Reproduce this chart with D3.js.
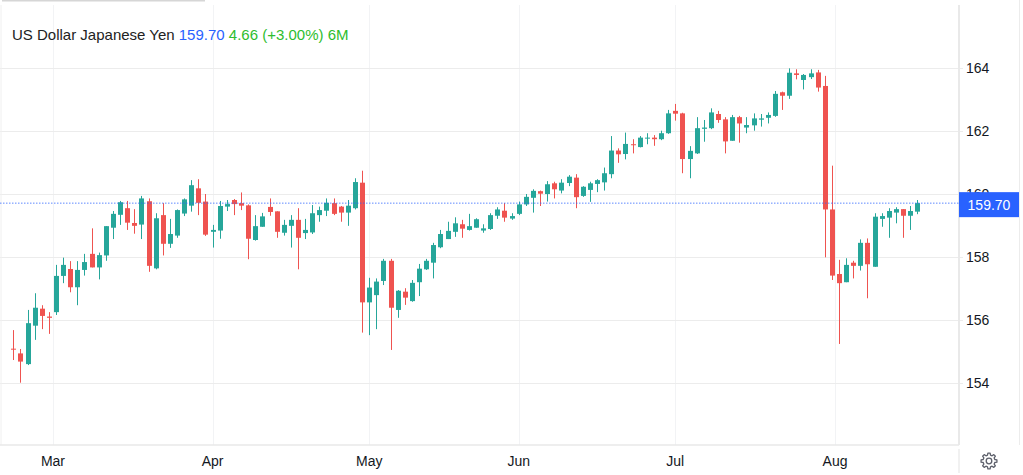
<!DOCTYPE html>
<html>
<head>
<meta charset="utf-8">
<script src="https://cdn.jsdelivr.net/npm/d3@7/dist/d3.min.js"></script>
<style>
  html, body { margin: 0; padding: 0; background: #fff; }
  svg { display: block; font-family: "Liberation Sans", Arial, Helvetica, sans-serif; }
</style>
</head>
<body>
<svg id="chart" width="1023" height="475"></svg>
<script>
// ---- data ----
const title = "US Dollar Japanese Yen";
const lastPrice = 159.70;
const changeText = "4.66 (+3.00%) 6M";

const open = [
155.08, 154.93, 154.59, 155.81, 156.35, 156.10, 156.24, 157.39, 157.61, 157.03,
157.58, 158.09, 157.66, 158.04, 158.92, 159.33, 159.54, 159.07, 159.02, 159.76,
157.63, 159.32, 158.41, 158.67, 159.37, 159.62, 160.17, 159.75, 158.79, 158.83,
159.59, 159.80, 159.70, 159.63, 158.53, 158.95, 159.58, 159.44, 158.76, 158.98,
159.17, 158.75, 158.77, 159.32, 159.46, 159.70, 159.59, 159.40, 159.54, 160.35,
156.55, 156.78, 157.23, 157.87, 156.31, 156.89, 156.59, 157.19, 157.60, 157.81,
158.30, 158.56, 158.79, 159.03, 158.85, 158.92, 158.83, 158.88, 159.30, 159.46,
159.21, 159.36, 159.66, 159.87, 160.08, 159.99, 160.33, 160.10, 160.34, 160.51,
159.93, 160.12, 160.31, 160.36, 160.62, 161.37, 161.26, 161.57, 161.48, 161.75,
161.78, 161.73, 161.92, 162.63, 162.55, 161.10, 161.28, 162.06, 162.08, 162.53,
162.36, 161.68, 162.43, 162.10, 162.17, 162.35, 162.41, 162.47, 163.22, 163.11,
163.82, 163.61, 163.70, 163.85, 163.42, 159.50, 157.45, 157.19, 157.81, 157.71,
158.44, 157.68, 159.20, 159.24, 159.40, 159.51, 159.30, 159.43
];
const high = [
155.67, 155.07, 156.31, 156.84, 156.46, 156.24, 157.74, 157.97, 157.86, 157.86,
158.09, 158.90, 158.13, 158.97, 159.45, 159.77, 159.77, 159.51, 159.93, 159.85,
159.38, 159.70, 159.20, 159.50, 159.85, 160.43, 160.46, 159.99, 159.01, 159.77,
159.80, 159.83, 160.04, 159.66, 159.32, 159.39, 159.85, 159.44, 159.17, 159.32,
159.54, 159.20, 159.64, 159.59, 159.85, 159.85, 159.61, 159.80, 160.49, 160.73,
157.33, 157.31, 157.93, 157.93, 156.94, 157.00, 157.26, 157.77, 157.93, 158.44,
158.85, 159.11, 159.25, 159.17, 159.36, 159.22, 159.03, 159.38, 159.57, 159.70,
159.38, 159.75, 159.99, 160.14, 160.10, 160.40, 160.38, 160.46, 160.59, 160.62,
160.24, 160.38, 160.46, 160.83, 161.83, 161.44, 161.94, 161.73, 161.83, 161.92,
161.86, 162.00, 162.66, 162.85, 162.57, 161.51, 162.43, 162.34, 162.71, 162.63,
162.43, 162.50, 162.47, 162.43, 162.55, 162.53, 162.58, 163.26, 163.24, 163.98,
163.95, 163.80, 163.95, 163.93, 163.74, 160.89, 157.90, 157.95, 157.87, 158.55,
158.58, 159.38, 159.38, 159.54, 159.57, 159.51, 159.61, 159.80
];
const low = [
154.72, 154.00, 154.56, 155.36, 155.70, 155.55, 156.15, 157.16, 156.87, 156.46,
157.40, 157.66, 157.28, 157.87, 158.56, 159.01, 158.85, 158.73, 158.56, 157.52,
157.60, 158.04, 158.28, 158.60, 159.29, 159.43, 159.32, 158.66, 158.29, 158.57,
159.45, 159.32, 159.48, 157.92, 158.51, 158.95, 159.30, 158.60, 158.67, 158.29,
157.60, 158.56, 158.72, 159.11, 159.29, 159.32, 159.11, 158.98, 159.50, 155.59,
155.51, 155.70, 157.10, 155.04, 156.06, 156.47, 156.57, 156.75, 157.58, 157.31,
158.27, 158.56, 158.63, 158.60, 158.83, 158.92, 158.76, 158.85, 159.20, 159.11,
159.17, 159.32, 159.61, 159.40, 159.61, 159.75, 159.85, 160.01, 160.24, 159.54,
159.90, 159.74, 160.05, 160.10, 160.49, 160.98, 161.09, 161.28, 161.47, 161.57,
161.52, 161.70, 161.90, 162.32, 160.65, 160.49, 161.26, 161.65, 162.05, 162.25,
161.28, 161.68, 161.62, 161.92, 162.00, 162.13, 162.23, 162.44, 162.66, 163.01,
163.63, 163.31, 163.64, 163.24, 157.98, 157.26, 155.23, 157.19, 157.31, 157.56,
156.68, 157.68, 158.95, 158.60, 159.06, 158.60, 158.85, 159.35
];
const close = [
155.05, 154.67, 155.89, 156.38, 156.12, 156.06, 157.39, 157.74, 157.03, 157.58,
157.83, 157.66, 158.05, 158.97, 159.36, 159.73, 159.08, 158.98, 159.85, 157.71,
159.22, 158.41, 158.72, 159.48, 159.82, 160.27, 159.71, 158.70, 158.85, 159.61,
159.67, 159.67, 159.62, 158.57, 158.97, 159.28, 159.42, 158.79, 159.01, 159.17,
158.60, 158.85, 159.38, 159.48, 159.71, 159.36, 159.40, 159.62, 160.37, 156.55,
157.02, 157.21, 157.87, 156.38, 156.92, 156.70, 157.17, 157.62, 157.87, 158.37,
158.72, 158.82, 159.06, 158.89, 158.97, 159.19, 158.90, 159.32, 159.50, 159.24,
159.29, 159.66, 159.90, 160.09, 160.00, 160.30, 160.14, 160.35, 160.54, 159.89,
160.22, 160.33, 160.43, 160.65, 161.37, 161.25, 161.58, 161.54, 161.78, 161.78,
161.73, 161.92, 162.55, 162.54, 161.10, 161.36, 162.08, 162.10, 162.58, 162.34,
161.66, 162.43, 162.23, 162.18, 162.39, 162.39, 162.50, 163.17, 163.11, 163.84,
163.77, 163.77, 163.82, 163.37, 159.50, 157.40, 157.16, 157.74, 157.71, 158.44,
157.76, 159.27, 159.29, 159.45, 159.51, 159.30, 159.45, 159.70
];
const yTicks = [154, 156, 158, 160, 162, 164];
const monthLabels = ["Mar", "Apr", "May", "Jun", "Jul", "Aug"];
const monthAt = [5.57, 28, 50, 71, 93, 115.45]; // candle index of month start

// ---- layout ----
const W = 1023, H = 475;
const plotRight = 959, plotBottom = 445;
const UP = "#26a69a", DOWN = "#ef5350";

const svg = d3.select("#chart");
const x = d3.scaleLinear().domain([0, open.length - 1]).range([13.3, 917.3]);
const y = d3.scaleLinear().domain([154, 164]).range([382.7, 67.7]);

// top scroll strip
svg.append("rect").attr("x", 2).attr("y", 0).attr("width", 203).attr("height", 1.5).attr("fill", "#d6d6d6");

// vertical month grid
svg.append("g").selectAll("line").data(monthAt).join("line")
  .attr("x1", d => Math.round(x(d)) + 0.5).attr("x2", d => Math.round(x(d)) + 0.5)
  .attr("y1", 5).attr("y2", plotBottom)
  .attr("stroke", "#f2f3f5").attr("stroke-width", 1);

// horizontal grid
svg.append("g").selectAll("line").data(yTicks).join("line")
  .attr("x1", 0).attr("x2", plotRight + 4)
  .attr("y1", d => Math.round(y(d)) + 0.5).attr("y2", d => Math.round(y(d)) + 0.5)
  .attr("stroke", "#ececec").attr("stroke-width", 1);

// borders
svg.append("line").attr("x1", 1).attr("x2", 1).attr("y1", 5).attr("y2", plotBottom).attr("stroke", "#f0f0f0");
svg.append("line").attr("x1", plotRight).attr("x2", plotRight).attr("y1", 5).attr("y2", plotBottom)
  .attr("stroke", "#e9e9e9").attr("stroke-width", 2);
svg.append("line").attr("x1", 0).attr("x2", plotRight).attr("y1", plotBottom).attr("y2", plotBottom)
  .attr("stroke", "#e9e9e9").attr("stroke-width", 1.5);
svg.append("line").attr("x1", 1019.5).attr("x2", 1019.5).attr("y1", 0).attr("y2", plotBottom)
  .attr("stroke", "#ececec").attr("stroke-width", 1);
svg.append("line").attr("x1", plotRight).attr("x2", plotRight).attr("y1", 449).attr("y2", 473)
  .attr("stroke", "#ececec").attr("stroke-width", 1.5);

// y tick labels
svg.append("g").selectAll("text").data(yTicks).join("text")
  .attr("x", 966).attr("y", d => y(d) + 5)
  .attr("font-size", 14).attr("fill", "#131722")
  .text(d => d);

// x labels
svg.append("g").selectAll("text").data(monthLabels).join("text")
  .attr("x", (d, i) => x(monthAt[i])).attr("y", 466)
  .attr("text-anchor", "middle").attr("font-size", 14).attr("fill", "#131722")
  .text(d => d);

// candles
const idx = d3.range(open.length);
const g = svg.append("g");
g.selectAll("line.wick").data(idx).join("line").attr("class", "wick")
  .attr("x1", i => Math.round(x(i)) + 0.5).attr("x2", i => Math.round(x(i)) + 0.5)
  .attr("y1", i => y(high[i])).attr("y2", i => y(low[i]))
  .attr("stroke", i => close[i] >= open[i] ? UP : DOWN).attr("stroke-width", 1);
g.selectAll("rect.body").data(idx).join("rect").attr("class", "body")
  .attr("x", i => Math.round(x(i)) + 0.5 - 2.5).attr("width", 5)
  .attr("y", i => y(Math.max(open[i], close[i])))
  .attr("height", i => Math.max(1, Math.abs(y(open[i]) - y(close[i]))))
  .attr("fill", i => close[i] >= open[i] ? UP : DOWN);

// last price line
svg.append("line").attr("x1", 0).attr("x2", plotRight).attr("y1", y(lastPrice)).attr("y2", y(lastPrice))
  .attr("stroke", "#2962ff").attr("stroke-opacity", 0.75).attr("stroke-width", 1)
  .attr("stroke-dasharray", "1.5,1.5");

// last price label (covers the lower part of the 160 tick label as in the reference)
svg.append("rect").attr("x", plotRight).attr("y", y(lastPrice) - 11).attr("width", 60).attr("height", 25)
  .attr("fill", "#2962ff");
svg.append("text").attr("x", plotRight + 30).attr("y", y(lastPrice) + 6.5)
  .attr("text-anchor", "middle").attr("font-size", 14).attr("fill", "#ffffff")
  .text(lastPrice.toFixed(2));

// header
const hdr = svg.append("text").attr("x", 12).attr("y", 40).attr("font-size", 15);
hdr.append("tspan").attr("fill", "#222").text(title + " ");
hdr.append("tspan").attr("fill", "#2962ff").text(lastPrice.toFixed(2) + " ");
hdr.append("tspan").attr("fill", "#2ebd2e").text(changeText);

// gear icon
(function () {
  const cx = 989, cy = 461, teeth = 8, rO = 8, rI = 6;
  const pts = [];
  for (let k = 0; k < teeth; k++) {
    const a0 = (k / teeth) * 2 * Math.PI;
    const s = (2 * Math.PI) / teeth;
    pts.push([a0 - s * 0.18, rO], [a0 + s * 0.18, rO], [a0 + s * 0.32, rI], [a0 + s * 0.68, rI]);
  }
  const line = d3.lineRadial().angle(d => d[0]).radius(d => d[1]).curve(d3.curveLinearClosed);
  svg.append("path").attr("transform", `translate(${cx},${cy})`).attr("d", line(pts))
    .attr("fill", "none").attr("stroke", "#5d606b").attr("stroke-width", 1.3).attr("stroke-linejoin", "round");
  svg.append("circle").attr("cx", cx).attr("cy", cy).attr("r", 2.8)
    .attr("fill", "none").attr("stroke", "#5d606b").attr("stroke-width", 1.3);
})();
</script>
</body>
</html>
